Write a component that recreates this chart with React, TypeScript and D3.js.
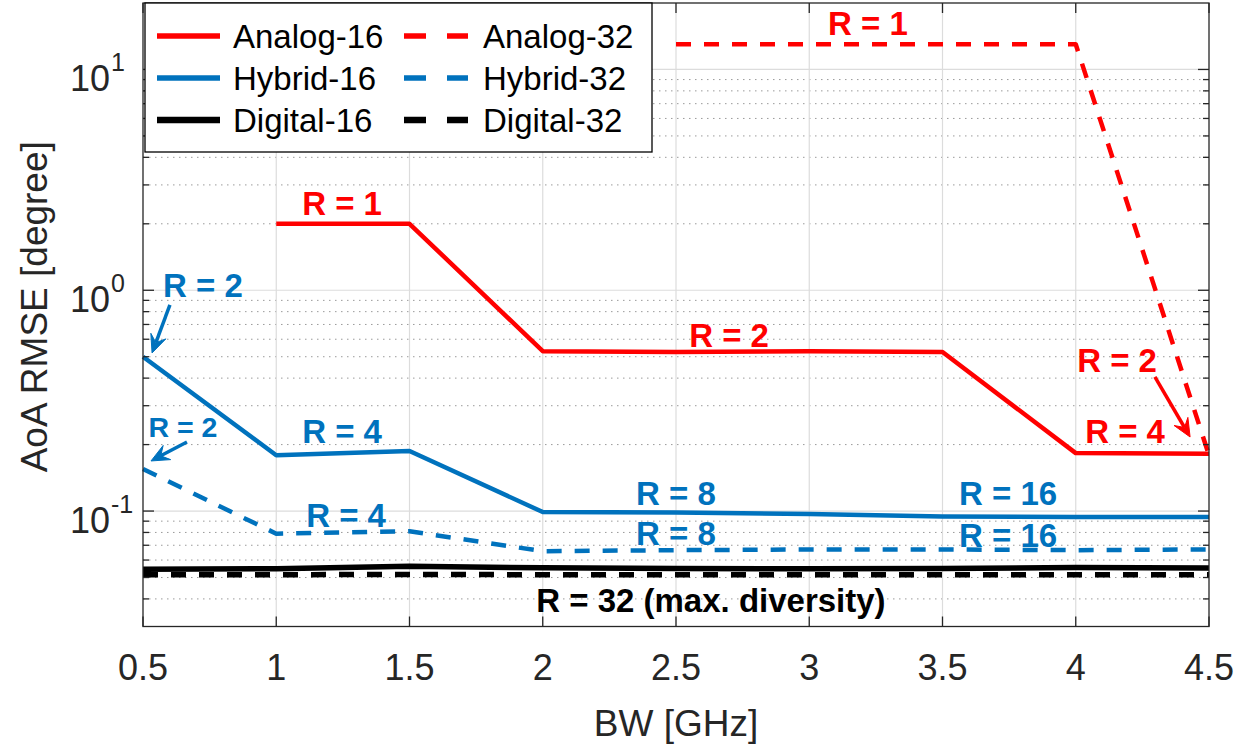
import React from "react";
import * as d3 from "d3";

// Bandwidth sweep (GHz)
const BW = [0.5, 1, 1.5, 2, 2.5, 3, 3.5, 4, 4.5];

// AoA RMSE in degrees, one array per receiver architecture
const analog16 = [null, 2.0, 2.0, 0.53, 0.525, 0.53, 0.525, 0.183, 0.182];
const analog32 = [null, null, null, null, 13, 13, 13, 13, 0.179];
const hybrid16 = [0.5, 0.179, 0.187, 0.099, 0.0985, 0.097, 0.0945, 0.094, 0.094];
const hybrid32 = [0.155, 0.079, 0.081, 0.0658, 0.0665, 0.067, 0.067, 0.0665, 0.067];
const digital16 = [0.0545, 0.0548, 0.0562, 0.0553, 0.0549, 0.0548, 0.055, 0.0555, 0.0552];
const digital32 = [0.0515, 0.0515, 0.0516, 0.0515, 0.0515, 0.0515, 0.0515, 0.0515, 0.0515];

const xTicks = [0.5, 1, 1.5, 2, 2.5, 3, 3.5, 4, 4.5];
const yMajor = [0.1, 1, 10];
const yTickExp = ["-1", "0", "1"];

const RED = "#ff0000";
const BLUE = "#0072bd";
const BLACK = "#000000";

type Series = { name: string; values: (number | null)[]; color: string; dashed: boolean; width: number };

const series: Series[] = [
  { name: "Analog-16", values: analog16, color: RED, dashed: false, width: 4.5 },
  { name: "Analog-32", values: analog32, color: RED, dashed: true, width: 4.5 },
  { name: "Hybrid-16", values: hybrid16, color: BLUE, dashed: false, width: 4.5 },
  { name: "Hybrid-32", values: hybrid32, color: BLUE, dashed: true, width: 4.5 },
  { name: "Digital-16", values: digital16, color: BLACK, dashed: false, width: 5.5 },
  { name: "Digital-32", values: digital32, color: BLACK, dashed: true, width: 5.5 },
];

// Text labels placed in data coordinates: [bw, rmse, text, color, size]
const labels: [number, number, string, string, number][] = [
  [1.247, 2.19, "R = 1", RED, 33],
  [3.22, 14.3, "R = 1", RED, 33],
  [2.699, 0.554, "R = 2", RED, 33],
  [4.155, 0.4266, "R = 2", RED, 33],
  [4.185, 0.2034, "R = 4", RED, 33],
  [0.725, 0.933, "R = 2", BLUE, 33],
  [0.65, 0.2165, "R = 2", BLUE, 28.5],
  [1.247, 0.2034, "R = 4", BLUE, 33],
  [1.262, 0.0847, "R = 4", BLUE, 33],
  [2.5, 0.1065, "R = 8", BLUE, 33],
  [2.5, 0.0702, "R = 8", BLUE, 33],
  [3.746, 0.1065, "R = 16", BLUE, 33],
  [3.746, 0.0688, "R = 16", BLUE, 33],
  [2.631, 0.0349, "R = 32 (max. diversity)", BLACK, 33],
];

// Arrows in data coordinates: tail (bw, rmse) -> tip (bw, rmse)
const arrows: [number, number, number, number, string][] = [
  [0.601, 0.858, 0.534, 0.52, BLUE],
  [0.665, 0.2056, 0.53, 0.1686, BLUE],
  [4.297, 0.405, 4.429, 0.2165, RED],
];

const FONT = "'Liberation Sans', Arial, Helvetica, sans-serif";
const AXIS_COLOR = "#262626";

export default function App() {
  const W = 1250, H = 748;
  const left = 143, right = 1209, top = 3, bottom = 626.5;

  const x = d3.scaleLinear().domain([0.5, 4.5]).range([left, right]);
  const y = d3.scaleLog().domain([0.03, 20]).range([bottom, top]);

  const minor: number[] = [];
  for (let k = -2; k <= 1; k++) {
    for (let m = 2; m <= 9; m++) {
      const v = m * Math.pow(10, k);
      if (v > 0.03 + 1e-9 && v < 20 - 1e-9) minor.push(v);
    }
  }

  const line = d3
    .line<[number, number | null]>()
    .defined((d) => d[1] != null)
    .x((d) => x(d[0]))
    .y((d) => y(d[1] as number));

  const arrowPath = (x0: number, y0: number, x1: number, y1: number) => {
    const dx = x1 - x0, dy = y1 - y0;
    const len = Math.hypot(dx, dy);
    const ux = dx / len, uy = dy / len;
    const px = -uy, py = ux;
    const L = 18, Wd = 8, notch = 11;
    const bx = x1 - ux * L, by = y1 - uy * L;
    const nx = x1 - ux * notch, ny = y1 - uy * notch;
    const head = `M${x1},${y1}L${bx + px * Wd},${by + py * Wd}L${nx},${ny}L${bx - px * Wd},${by - py * Wd}Z`;
    const shaft = `M${x0},${y0}L${nx},${ny}`;
    return { head, shaft };
  };

  // Legend layout
  const legX = 145, legY = 3, legW = 507, legH = 149;
  const rowY = [36, 78, 120];
  const colLine = [[157, 220], [404, 468]];
  const colText = [233, 483];

  return (
    <svg
      width={W}
      height={H}
      style={{ position: "absolute", left: 0, top: 0, display: "block", background: "#fff" }}
      fontFamily={FONT}
    >
      <rect x={0} y={0} width={W} height={H} fill="#fff" />

      {/* grid */}
      {minor.map((v) => (
        <line key={"mg" + v} x1={left} x2={right} y1={y(v)} y2={y(v)} stroke="#9a9a9a" strokeWidth={1} strokeDasharray="1.5 4.5" />
      ))}
      {yMajor.map((v) => (
        <line key={"Mg" + v} x1={left} x2={right} y1={y(v)} y2={y(v)} stroke="#dcdcdc" strokeWidth={1.2} />
      ))}
      {xTicks.slice(1, -1).map((t) => (
        <line key={"xg" + t} x1={x(t)} x2={x(t)} y1={top} y2={bottom} stroke="#dcdcdc" strokeWidth={1.2} />
      ))}

      {/* series */}
      {series.map((s) => (
        <path
          key={s.name}
          d={line(BW.map((b, i) => [b, s.values[i]] as [number, number | null])) || ""}
          fill="none"
          stroke={s.color}
          strokeWidth={s.width}
          strokeDasharray={s.dashed ? "15 13" : undefined}
          strokeLinejoin="round"
        />
      ))}

      {/* annotations */}
      {labels.map(([bx, v, t, c, fs], i) => (
        <text key={"lab" + i} x={x(bx)} y={y(v)} fill={c} fontSize={fs} fontWeight="bold" textAnchor="middle">
          {t}
        </text>
      ))}
      {arrows.map(([a, b, c, d, col], i) => {
        const p = arrowPath(x(a), y(b), x(c), y(d));
        return (
          <g key={"arr" + i}>
            <path d={p.shaft} stroke={col} strokeWidth={3.5} fill="none" />
            <path d={p.head} fill={col} stroke={col} strokeWidth={1} strokeLinejoin="miter" />
          </g>
        );
      })}

      {/* axes box and ticks */}
      <rect x={left} y={top} width={right - left} height={bottom - top} fill="none" stroke={AXIS_COLOR} strokeWidth={1.3} />
      {xTicks.map((t) => (
        <g key={"xt" + t}>
          <line x1={x(t)} x2={x(t)} y1={bottom} y2={bottom - 10} stroke={AXIS_COLOR} strokeWidth={1.3} />
          <line x1={x(t)} x2={x(t)} y1={top} y2={top + 10} stroke={AXIS_COLOR} strokeWidth={1.3} />
          <text x={x(t)} y={680} textAnchor="middle" fontSize={36} fill={AXIS_COLOR}>
            {d3.format("")(t)}
          </text>
        </g>
      ))}
      {yMajor.map((v) => (
        <g key={"yt" + v}>
          <line x1={left} x2={left + 11} y1={y(v)} y2={y(v)} stroke={AXIS_COLOR} strokeWidth={1.3} />
          <line x1={right} x2={right - 11} y1={y(v)} y2={y(v)} stroke={AXIS_COLOR} strokeWidth={1.3} />
        </g>
      ))}
      {minor.map((v) => (
        <g key={"ymt" + v}>
          <line x1={left} x2={left + 6} y1={y(v)} y2={y(v)} stroke={AXIS_COLOR} strokeWidth={1.3} />
          <line x1={right} x2={right - 6} y1={y(v)} y2={y(v)} stroke={AXIS_COLOR} strokeWidth={1.3} />
        </g>
      ))}
      {yMajor.map((v, i) => (
        <g key={"yl" + v} fill={AXIS_COLOR}>
          <text x={110} y={y(v) + 22} textAnchor="end" fontSize={36}>
            10
          </text>
          <text x={111} y={y(v) + 2} textAnchor="start" fontSize={25}>
            {yTickExp[i]}
          </text>
        </g>
      ))}

      {/* axis titles */}
      <text x={(left + right) / 2} y={736} textAnchor="middle" fontSize={37} fill={AXIS_COLOR}>
        BW [GHz]
      </text>
      <text
        transform={`translate(47,${(top + bottom) / 2 - 8}) rotate(-90)`}
        textAnchor="middle"
        fontSize={37}
        fill={AXIS_COLOR}
      >
        AoA RMSE [degree]
      </text>

      {/* legend */}
      <rect x={legX} y={legY} width={legW} height={legH} fill="#fff" stroke="#000" strokeWidth={1.3} />
      {series.map((s, i) => {
        const col = i % 2;
        const row = Math.floor(i / 2);
        const [l0, l1] = colLine[col];
        return (
          <g key={"leg" + s.name}>
            <line
              x1={l0}
              x2={l1}
              y1={rowY[row]}
              y2={rowY[row]}
              stroke={s.color}
              strokeWidth={s.width + 1}
              strokeDasharray={s.dashed ? "22 21" : undefined}
            />
            <text x={colText[col]} y={rowY[row] + 12} fontSize={33} fill="#000">
              {s.name}
            </text>
          </g>
        );
      })}
    </svg>
  );
}
